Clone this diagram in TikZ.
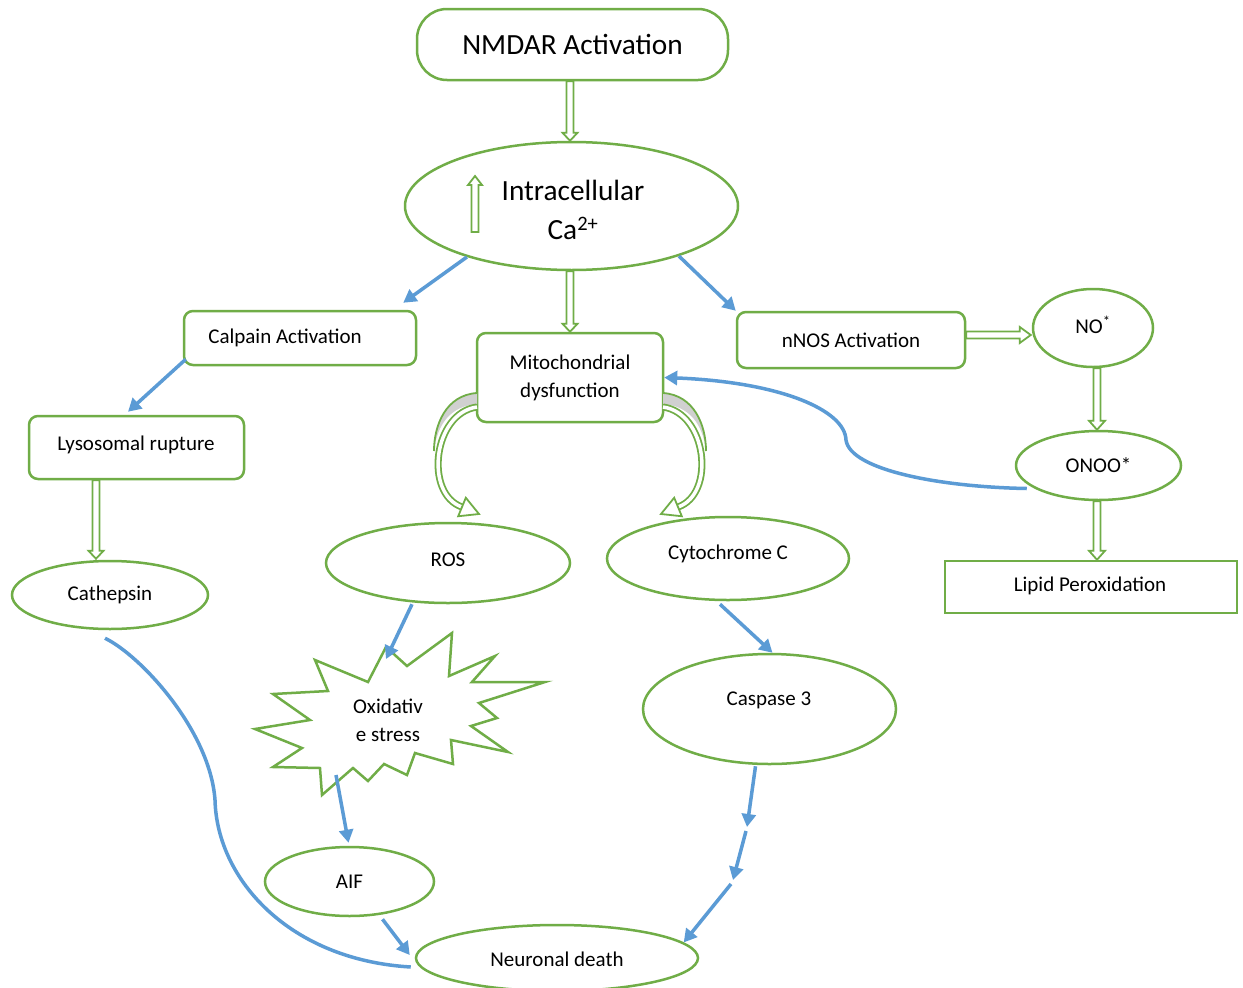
\documentclass[tikz,border=0pt]{standalone}
\usepackage{fontspec}
\setmainfont{Carlito}
\usetikzlibrary{calc,arrows.meta,shapes.geometric}
\definecolor{grn}{HTML}{70AD47}
\definecolor{blu}{HTML}{5B9BD5}
\definecolor{wedge}{HTML}{D0D0D0}
% block (hollow) arrow: from, to, shaft half width, head half width, head length
\newcommand\blkarrow[5]{%
  \coordinate (bA) at #1; \coordinate (bB) at #2;
  \coordinate (bH) at ($(bB)!#5!(bA)$);
  \draw[blkline] ($(bA)!#3!90:(bB)$) -- ($(bH)!#3!-90:(bA)$) -- ($(bH)!#4!-90:(bA)$) -- (bB)
     -- ($(bH)!#4!90:(bA)$) -- ($(bH)!#3!90:(bA)$) -- ($(bA)!#3!-90:(bB)$) -- cycle;}
% curved ribbon arrow leaving the left side of the mitochondria box
\newcommand\mitocurve{%
  \fill[wedge] (477,393) .. controls (446,395) and (434,425) .. (434,451)
     .. controls (437,425) and (450,406) .. (477,404) -- cycle;
  \draw[grn, line width=1.8pt] (477,393) .. controls (446,395) and (434,425) .. (434,451);
  \draw[grn, line width=1.8pt, double=white, double distance=3.5pt]
     (477,407) .. controls (433,413) and (424,494) .. (462,507);
  \coordinate (mh) at (462,507); \coordinate (mt) at (479,514);
  \draw[blkline] ($(mh)!10pt!90:(mt)$) -- (mt) -- ($(mh)!10pt!-90:(mt)$) -- cycle;}
\begin{document}
\begin{tikzpicture}[x=1pt,y=-1pt,
  every node/.style={font=\fontsize{21}{28}\selectfont, align=center, inner sep=0pt},
  big/.style={font=\fontsize{29.3}{39}\selectfont},
  rbox/.style={draw=grn, line width=2.5pt, rounded corners=9pt, fill=white},
  sbox/.style={draw=grn, line width=2.5pt, fill=white},
  ell/.style={draw=grn, line width=2.5pt, ellipse, fill=white},
  barrow/.style={draw=blu, line width=3.5pt, -{Triangle[length=13pt,width=14pt]}},
  bline/.style={draw=blu, line width=3.5pt},
  blkline/.style={draw=grn, line width=1.8pt, fill=white, line join=miter},
  star/.style={draw=grn, line width=2.5pt, fill=white, line join=miter}
]
\useasboundingbox[fill=white] (0,0) rectangle (1243,988);

% ---------- nodes ----------
\node[rbox, rounded corners=30pt, minimum width=311pt, minimum height=71pt, big] (nm) at (572.5,44.5) {NMDAR Activation};
\node[ell, minimum width=333pt, minimum height=128pt] (ca) at (571.5,206) {};
\node[big] (catxt) at (573,210) {Intracellular\\Ca\textsuperscript{2+}};

\node[rbox, minimum width=232pt, minimum height=54pt] (cal) at (300,338) {};
\node (caltxt) at (285,338) {Calpain Activation};
\node[rbox, minimum width=215pt, minimum height=63pt] (lyso) at (136.5,447.5) {};
\node (lysotxt) at (136,445) {Lysosomal rupture};
\node[ell, minimum width=196pt, minimum height=68pt] (cat) at (110,595) {Cathepsin};

\node[rbox, minimum width=186pt, minimum height=89pt] (mito) at (570,377.5) {Mitochondrial\\dysfunction};

\node[rbox, minimum width=228pt, minimum height=56pt] (nnos) at (851,340) {nNOS Activation};
\node[ell, minimum width=120pt, minimum height=78pt] (no) at (1093,328) {};
\node (notxt) at (1093,325) {NO\textsuperscript{*}};
\node[ell, minimum width=165pt, minimum height=69pt] (onoo) at (1098.5,465.5) {ONOO*};
\node[sbox, minimum width=292pt, minimum height=52pt] (lipid) at (1091,587) {};
\node (lipidtxt) at (1090,586) {Lipid Peroxidation};

\node[ell, minimum width=244pt, minimum height=80pt] (ros) at (448,563) {};
\node (rostxt) at (448,560) {ROS};
\node[ell, minimum width=242pt, minimum height=83pt] (cyt) at (728,558.5) {};
\node (cyttxt) at (728,554) {Cytochrome C};
\node[ell, minimum width=253pt, minimum height=110pt] (casp) at (769.5,709) {};
\node (casptxt) at (769,700) {Caspase 3};

\draw[star] (315,660) -- (368,682) -- (386,647) -- (407,666) -- (452,633) -- (449,676) -- (495,656)
  -- (472,682) -- (545,682) -- (479,703) -- (497,718) -- (471,726) -- (508,752) -- (451,740)
  -- (453,764) -- (415,753) -- (407,775) -- (384,764) -- (368,781) -- (353,768) -- (322,795)
  -- (320,768) -- (273,767) -- (302,748) -- (255,729) -- (310,720) -- (273,694) -- (328,691) -- cycle;
\node (ox) at (388,720) {Oxidativ\\e stress};

\node[ell, minimum width=169pt, minimum height=69pt] (aif) at (349.5,881.5) {AIF};
\node[ell, minimum width=282pt, minimum height=66pt] (nd) at (557,958) {};
\node (ndtxt) at (557,959) {Neuronal death};

% ---------- hollow block arrows ----------
\blkarrow{(nm.south -| mito.north)}{(ca.north -| mito.north)}{3.5pt}{7.5pt}{8pt}
\blkarrow{(ca.south -| mito.north)}{(mito.north)}{3.5pt}{7.5pt}{8pt}
\blkarrow{($(lyso.south)+(-40.5,0)$)}{($(cat.north)+(-14,-1)$)}{3.5pt}{7.5pt}{8pt}
\blkarrow{($(nnos.east)+(0,-5)$)}{($(no.west)+(-1,7)$)}{3.5pt}{8pt}{11pt}
\blkarrow{($(no.south)+(4,0)$)}{($(onoo.north)+(-1.5,0)$)}{3.5pt}{8pt}{9pt}
\blkarrow{($(onoo.south)+(-1.5,0)$)}{($(lipid.north)+(6,0)$)}{3.5pt}{8pt}{9pt}
\blkarrow{($(ca.center)+(-96.5,26)$)}{($(ca.center)+(-96.5,-30)$)}{3.5pt}{7pt}{9pt}

% curved ribbon arrows from the mitochondria box
\mitocurve
\begin{scope}[xshift=1140pt, xscale=-1]
  \mitocurve
\end{scope}

% ---------- blue connectors ----------
\draw[barrow] (ca.206) -- ($(cal.north east)+(-14,-7)$);
\draw[barrow] (ca.335) -- (nnos.north west);
\draw[barrow] ($(cal.south west)+(3,-7)$) -- ($(lyso.north)+(-8.5,-3)$);

\coordinate (oxin) at (386,659);
\coordinate (oxout) at (336,775);
\draw[barrow] ($(ros.south)+(-36,0)$) -- (oxin);
\draw[barrow] (oxout) -- ($(aif.north)+(-1,-3)$);
\draw[barrow] ($(aif.south)+(33,2)$) -- ($(nd.west)+(-5,-3)$);

\draw[barrow] ($(cyt.south)+(-8,3)$) -- ($(casp.north)+(3,0)$);
\coordinate (k1) at (747,827);
\coordinate (k2) at (746,831);
\coordinate (k3) at (733,880);
\coordinate (k4) at (731,884);
\draw[barrow] ($(casp.south)+(-14,1)$) -- (k1);
\draw[barrow] (k2) -- (k3);
\draw[barrow] (k4) -- (nd.7);

\draw[bline] ($(cat.south)+(-5,8)$) .. controls (140,655) and (210,730) .. (215,800)
   .. controls (217,880) and (290,960) .. ($(nd.west)+(-4,9)$);

\draw[barrow] ($(onoo.west)+(12,23)$) .. controls (940,487) and (850,470) .. (846,440)
   .. controls (845,410) and (780,382) .. (mito.east);
\end{tikzpicture}
\end{document}
